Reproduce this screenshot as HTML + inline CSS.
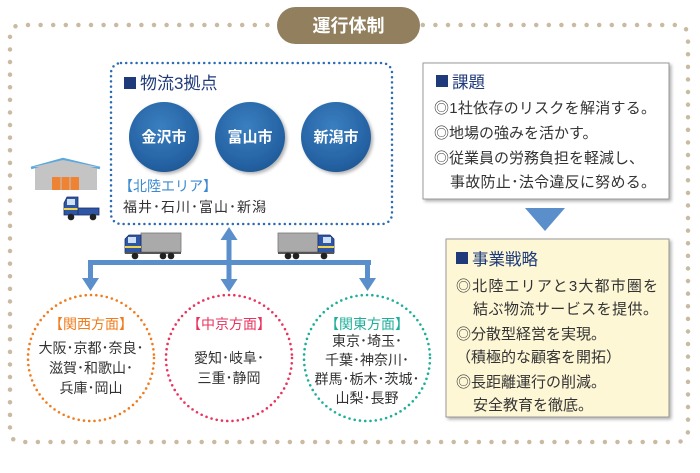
<!DOCTYPE html>
<html><head><meta charset="utf-8"><style>
body{margin:0;width:700px;height:468px;background:#fff;overflow:hidden}
svg text{font-family:"Liberation Sans","Noto Sans CJK JP",sans-serif}
</style></head><body>
<svg width="700" height="468" viewBox="0 0 700 468" xmlns="http://www.w3.org/2000/svg">
<defs>
<radialGradient id="bg" cx="0.45" cy="0.35" r="0.7">
<stop offset="0" stop-color="#3a7fc0"/><stop offset="0.8" stop-color="#2461a2"/><stop offset="1" stop-color="#1d5490"/></radialGradient>
<filter id="sh" x="-10%" y="-10%" width="130%" height="130%"><feDropShadow dx="2" dy="2" stdDeviation="1.5" flood-color="#000" flood-opacity="0.3"/></filter>
<g id="truckL">
<rect x="18" y="0" width="40" height="19" fill="#aaa" stroke="#777" stroke-width="0.8"/>
<path d="M2,6 L6,2 L18,2 L18,20 L2,20 Z" fill="#2f55a5" stroke="#1a2e66" stroke-width="0.8"/>
<rect x="5" y="4" width="8" height="6" fill="#cfe0f5"/>
<rect x="2" y="13" width="16" height="2" fill="#f0d34a"/>
<rect x="2" y="19" width="56" height="2" fill="#555"/>
<circle cx="12" cy="23" r="3.3" fill="#222"/><circle cx="40" cy="23" r="3.3" fill="#222"/><circle cx="48" cy="23" r="3.3" fill="#222"/>
</g>
</defs>
<path d="M280,25 L22,25 Q10,25 10,37 L10,430 Q10,442 22,442 L676,442 Q688,442 688,430 L688,37 Q688,25 676,25 L420,25" fill="none" stroke="#c9bba2" stroke-width="4.5" stroke-linecap="round" stroke-dasharray="0 12.6"/>
<rect x="277" y="7" width="143" height="37" rx="18.5" fill="#917f5e"/>
<text x="348.5" y="32" font-size="18" fill="#fff" text-anchor="middle" font-weight="bold">運行体制</text>
<rect x="111" y="63" width="281" height="161" rx="10" fill="none" stroke="#2a6cb5" stroke-width="2.5" stroke-dasharray="0 5.2" stroke-linecap="round"/>
<rect x="124" y="77" width="12" height="12" fill="#1f3a7a"/>
<text x="140" y="89" font-size="17" fill="#1f3a7a">物流3拠点</text>
<circle cx="164" cy="137" r="35" fill="url(#bg)" filter="url(#sh)"/>
<circle cx="250" cy="137" r="35" fill="url(#bg)" filter="url(#sh)"/>
<circle cx="336" cy="137" r="35" fill="url(#bg)" filter="url(#sh)"/>
<text x="164" y="142" font-size="15" fill="#fff" text-anchor="middle" font-weight="bold">金沢市</text>
<text x="250" y="142" font-size="15" fill="#fff" text-anchor="middle" font-weight="bold">富山市</text>
<text x="336" y="142" font-size="15" fill="#fff" text-anchor="middle" font-weight="bold">新潟市</text>
<text x="119" y="191" font-size="14" fill="#3d8ad1">【北陸エリア】</text>
<text x="123" y="212" font-size="14" fill="#333" textLength="143">福井･石川･富山･新潟</text>
<rect x="35" y="167" width="62" height="23" fill="#c4c4c4"/>
<path d="M31,168 L63,159 L100,168" fill="none" stroke="#5aa8dc" stroke-width="2.5"/>
<path d="M33,167 L63,160 L98,167 Z" fill="#c4c4c4"/>
<rect x="52" y="177" width="27" height="13" fill="#ee8433"/>
<line x1="61" y1="177" x2="61" y2="190" stroke="#c4c4c4"/><line x1="70" y1="177" x2="70" y2="190" stroke="#c4c4c4"/>
<g transform="translate(62,197)">
<path d="M2,6 L5,0 L16,0 L16,18 L2,18 Z" fill="#2f55a5" stroke="#1a2e66" stroke-width="0.8"/>
<rect x="5" y="2" width="8" height="6" fill="#cfe0f5"/>
<rect x="2" y="11" width="14" height="2" fill="#f0d34a"/>
<rect x="16" y="11" width="21" height="7" fill="#2f55a5" stroke="#1a2e66" stroke-width="0.8"/>
<circle cx="9" cy="20" r="3.3" fill="#222"/><circle cx="31" cy="20" r="3.3" fill="#222"/>
</g>
<g transform="translate(123,233)"><use href="#truckL"/></g>
<g transform="translate(336,233) scale(-1,1)"><use href="#truckL"/></g>
<g fill="#5b8fcb">
<rect x="88" y="260" width="283" height="5"/>
<rect x="88" y="260" width="5" height="20"/>
<rect x="365" y="260" width="5" height="20"/>
<rect x="226.5" y="238" width="5" height="44"/>
<path d="M82,278 L99,278 L90.5,291 Z"/>
<path d="M359,278 L376,278 L367.5,291 Z"/>
<path d="M220.5,279 L237.5,279 L229,292 Z"/>
<path d="M220.5,240 L237.5,240 L229,227 Z"/>
</g>
<circle cx="91" cy="358" r="63" fill="none" stroke="#f07c1e" stroke-width="2.6" stroke-dasharray="0 5.3" stroke-linecap="round"/>
<circle cx="229" cy="358" r="63" fill="none" stroke="#e8345e" stroke-width="2.6" stroke-dasharray="0 5.3" stroke-linecap="round"/>
<circle cx="367" cy="358" r="63" fill="none" stroke="#1fae9a" stroke-width="2.6" stroke-dasharray="0 5.3" stroke-linecap="round"/>
<g font-size="14" text-anchor="middle">
<text x="91" y="329" fill="#f07c1e">【関西方面】</text>
<text x="91" y="353" fill="#333">大阪･京都･奈良･</text>
<text x="91" y="373" fill="#333">滋賀･和歌山･</text>
<text x="91" y="393" fill="#333">兵庫･岡山</text>
<text x="229" y="329" fill="#e8345e">【中京方面】</text>
<text x="229" y="363" fill="#333">愛知･岐阜･</text>
<text x="229" y="383" fill="#333">三重･静岡</text>
<text x="367" y="329" fill="#1fae9a">【関東方面】</text>
<text x="367" y="346" fill="#333">東京･埼玉･</text>
<text x="367" y="365" fill="#333">千葉･神奈川･</text>
<text x="367" y="384" fill="#333">群馬･栃木･茨城･</text>
<text x="367" y="403" fill="#333">山梨･長野</text>
</g>
<rect x="423" y="63" width="246" height="136" fill="#fff" stroke="#999" stroke-width="1" filter="url(#sh)"/>
<rect x="436" y="75" width="12" height="12" fill="#1f3a7a"/>
<text x="452" y="88" font-size="16.5" fill="#1f3a7a">課題</text>
<g font-size="15" fill="#333">
<text x="434" y="113" textLength="222">◎1社依存のリスクを解消する。</text>
<text x="434" y="138">◎地場の強みを活かす。</text>
<text x="434" y="163" textLength="210">◎従業員の労務負担を軽減し、</text>
<text x="450" y="187" textLength="206">事故防止･法令違反に努める。</text>
</g>
<path d="M525,208 L565,208 L545,231 Z" fill="#5b8fcb"/>
<rect x="446" y="239" width="223" height="178" fill="#fdf7d6" stroke="#999" stroke-width="1" filter="url(#sh)"/>
<rect x="456" y="252" width="12" height="12" fill="#1f3a7a"/>
<text x="472" y="265" font-size="16.5" fill="#1f3a7a">事業戦略</text>
<g font-size="15" fill="#333">
<text x="456" y="291" textLength="202">◎北陸エリアと3大都市圏を</text>
<text x="473" y="314" textLength="185">結ぶ物流サービスを提供。</text>
<text x="456" y="339">◎分散型経営を実現。</text>
<text x="456" y="362">（積極的な顧客を開拓）</text>
<text x="456" y="387">◎長距離運行の削減。</text>
<text x="473" y="410">安全教育を徹底。</text>
</g>
</svg>
</body></html>
